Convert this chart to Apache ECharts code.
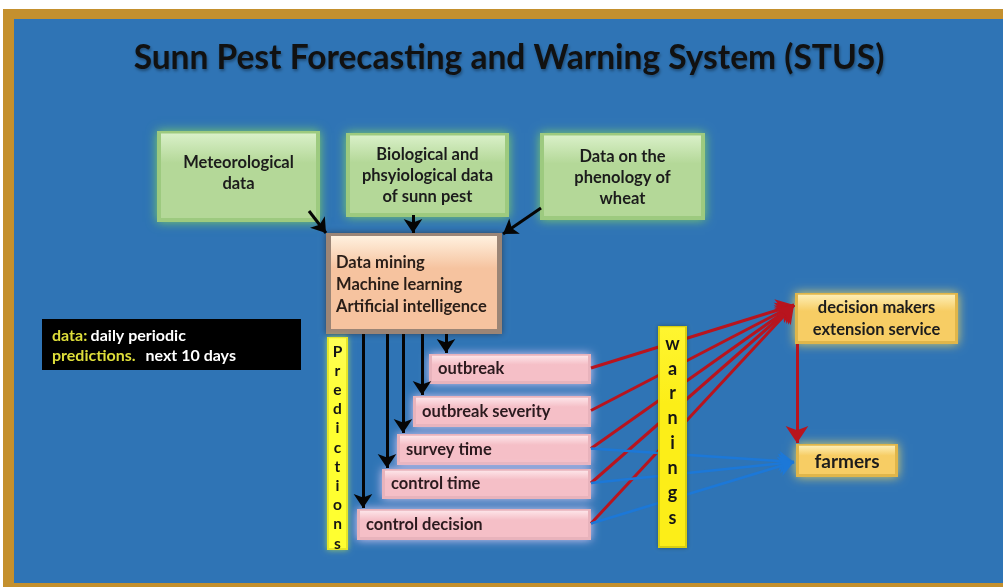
<!DOCTYPE html>
<html><head><meta charset="utf-8">
<script src="https://cdn.jsdelivr.net/npm/echarts@6/dist/echarts.min.js"></script>
<style>html,body{margin:0;padding:0;background:#fff}#c{width:1003px;height:587px}</style>
</head><body><div id="c"></div>
<script>
// ---- content ----
const titleText = 'Sunn Pest Forecasting and Warning System (STUS)';
const sourceLabels = ['Meteorological\ndata', 'Biological and\nphsyiological data\nof sunn pest', 'Data on the\nphenology of\nwheat'];
const engineLines = ['Data mining', 'Machine learning', 'Artificial intelligence'];
const predictionLabels = ['outbreak', 'outbreak severity', 'survey time', 'control time', 'control decision'];
const recipientLabels = ['decision makers\nextension service', 'farmers'];
const barLabels = ['Predictions', 'warnings'];
const noteKeys = ['data:', 'predictions.'];
const noteValues = ['daily periodic', 'next 10 days'];
const decisionLinks = [0, 1, 2, 3, 4];   // prediction index -> decision makers
const farmerLinks = [2, 3, 4];           // prediction index -> farmers

// ---- layout (diagram positions, px) ----
const L = {
  sources: [[157,131,320,222],[346,133,509,217],[540,133,705,220]],
  sourceArrows: [[[309,211],[326,233]], [[413,215],[413,233]], [[541,208],[503,234]]],
  engine: [[326,233,502,334]],
  predictions: [[429,354,591,384],[413,396,591,427],[397,434,591,465],[382,469,591,499],[357,509,591,540]],
  dropX: [446,422,403,387,363],
  recipients: [[795,293,958,344],[796,444,898,477]],
  decisionTip: [794,305],
  farmerTip: [794,462],
  bars: [[327,337,348,550],[658,326,687,548]],
  note: [[42,319,301,370]]
};

const FONT = 'Lato';
const skins = {
  green:  {glow:'rgba(130,210,100,0.95)', blur:10, edge:'#9dca7f', top:'#d9f0c8', bottom:'#b4d898', inset:4},
  peach:  {glow:'rgba(40,30,20,0.55)', blur:6, edge:'#9b8576', top:'#fff1df', bottom:'#f6c39f', inset:5},
  pink:   {glow:'rgba(225,205,245,0.95)', blur:10, edge:'#e8b3bc', top:'#fde4e8', bottom:'#f5bfc7', inset:3},
  gold:   {glow:'rgba(255,225,90,0.85)', blur:10, edge:'#e0b64a', top:'#fdeeb4', bottom:'#f7cd64', inset:3},
  yellowP:{glow:'rgba(200,240,80,0.7)', blur:6, edge:'#e6e628', top:'#ffff55', bottom:'#ffff30', inset:2},
  yellowW:{glow:'rgba(40,40,0,0.4)', blur:4, edge:'#d9cf10', top:'#fff530', bottom:'#fcee18', inset:2},
  black:  {glow:'rgba(0,0,0,0)', blur:0, edge:'#000', top:'#000', bottom:'#000', inset:0}
};

function boxShapes(x, y, w, h, s) {
  const out = [{
    type:'rect', shape:{x, y, width:w, height:h},
    style:{fill:s.edge, shadowBlur:s.blur, shadowColor:s.glow}
  }];
  if (s.inset > 0) {
    out.push({
      type:'rect', shape:{x:x+s.inset, y:y+s.inset*0.6, width:w-2*s.inset, height:h-s.inset*1.6},
      style:{fill:new echarts.graphic.LinearGradient(0,0,0,1,[{offset:0,color:s.top},{offset:0.35,color:s.bottom},{offset:1,color:s.bottom}])}
    });
  }
  return out;
}

function boxSeries(name, rects, skin, textFn, z) {
  return {
    type:'custom', name, coordinateSystem:'cartesian2d', z, clip:false, silent:true,
    data: rects,
    renderItem(params, api) {
      const a = api.coord([api.value(0), api.value(1)]);
      const b = api.coord([api.value(2), api.value(3)]);
      const x = a[0], y = a[1], w = b[0]-a[0], h = b[1]-a[1];
      const children = boxShapes(x, y, w, h, skins[typeof skin === 'function' ? skin(params.dataIndex) : skin]);
      children.push({type:'text', style: textFn(params.dataIndex, x, y, w, h)});
      return {type:'group', children};
    }
  };
}

const txt = (o) => Object.assign({fontFamily:FONT, fontWeight:'bold', fill:'#1c1c1c'}, o);

const seg = (p, q) => ({coords:[p, q]});
const blackArrows = L.sourceArrows.map(a => seg(a[0], a[1]))
  .concat(L.dropX.map((x, i) => seg([x, L.engine[0][3]], [x, L.predictions[i][1]-1])));
const rightMid = (i) => [L.predictions[i][2], (L.predictions[i][1]+L.predictions[i][3])/2 - 1];
const redArrows = decisionLinks.map(i => seg(rightMid(i), L.decisionTip))
  .concat([seg([L.recipients[0][0]+2, L.recipients[0][3]], [L.recipients[0][0]+2, L.recipients[1][1]-1])]);
const blueArrows = farmerLinks.map(i => seg(rightMid(i), L.farmerTip));

const option = {
  animation:false,
  backgroundColor:'#ffffff',
  title:{
    text:titleText, left:504, top:36, textAlign:'center',
    textStyle:{fontFamily:FONT, fontWeight:'bold', fontSize:33.5, color:'#111',
      textShadowColor:'rgba(0,0,0,0.35)', textShadowBlur:3, textShadowOffsetX:1, textShadowOffsetY:2}
  },
  graphic:[
    {type:'rect', z:-100, shape:{x:3, y:9, width:1000, height:578}, style:{fill:'#c4902e'}},
    {type:'rect', z:-99, shape:{x:14, y:19, width:989, height:564}, style:{fill:'#2f74b5'}}
  ],
  grid:{left:0, right:0, top:0, bottom:0},
  xAxis:{type:'value', min:0, max:1003, show:false},
  yAxis:{type:'value', min:0, max:587, inverse:true, show:false},
  series:[
    boxSeries('sources', L.sources, 'green', (i,x,y,w,h) => txt({
      text:sourceLabels[i], x:x+w/2, y:y+h/2 + (i===0?-3:1), align:'center', verticalAlign:'middle', fontSize:16.5, lineHeight:21}), 2),
    boxSeries('engine', L.engine, 'peach', (i,x,y,w,h) => txt({
      text:engineLines.join('\n'), x:x+10, y:y+h/2+1, align:'left', verticalAlign:'middle', fontSize:16.5, lineHeight:22, fill:'#2a1e18'}), 2),
    boxSeries('predictions', L.predictions, 'pink', (i,x,y,w,h) => txt({
      text:predictionLabels[i], x:x+9, y:y+h/2, align:'left', verticalAlign:'middle', fontSize:16.5, fill:'#2b1a1e'}), 2),
    boxSeries('recipients', L.recipients, 'gold', (i,x,y,w,h) => txt({
      text:recipientLabels[i], x:x+w/2, y:y+h/2 + (i===0?0:1), align:'center', verticalAlign:'middle', fontSize:i===0?16.5:19, lineHeight:22}), 2),
    boxSeries('note', L.note, 'black', (i,x,y,w,h) => ({
      text:'{k|' + noteKeys[0] + '} {v|' + noteValues[0] + '}\n{k|' + noteKeys[1] + '}   {v|' + noteValues[1] + '}',
      x:x+10, y:y+h/2+1, align:'left', verticalAlign:'middle',
      rich:{k:{fill:'#dede3a', fontFamily:FONT, fontWeight:'bold', fontSize:16, lineHeight:20},
            v:{fill:'#ffffff', fontFamily:FONT, fontWeight:'bold', fontSize:16, lineHeight:20}}}), 2),
    {type:'lines', coordinateSystem:'cartesian2d', z:3, silent:true, symbol:['none','arrow'], symbolSize:[13,17],
      lineStyle:{color:'#b8141e', width:3, opacity:1, curveness:0}, data:redArrows},
    {type:'lines', coordinateSystem:'cartesian2d', z:3, silent:true, symbol:['none','arrow'], symbolSize:[12,15],
      lineStyle:{color:'#1c78d8', width:2.5, opacity:1, curveness:0}, data:blueArrows},
    boxSeries('bars', L.bars, (i) => i===0 ? 'yellowP' : 'yellowW', (i,x,y,w,h) => txt({
      text:barLabels[i].split('').join('\n'), x:x+w/2, y:y+h/2 + (i===0?4:-6), align:'center', verticalAlign:'middle',
      fontSize:i===0?15.5:18, lineHeight:i===0?19.2:24.9, fill:'#151515'}), 4),
    {type:'lines', coordinateSystem:'cartesian2d', z:5, silent:true, symbol:['none','arrow'], symbolSize:[12,14],
      lineStyle:{color:'#050505', width:3, opacity:1, curveness:0}, data:blackArrows}
  ]
};
echarts.init(document.getElementById('c'), null, {renderer:'canvas'}).setOption(option);
</script></body></html>
